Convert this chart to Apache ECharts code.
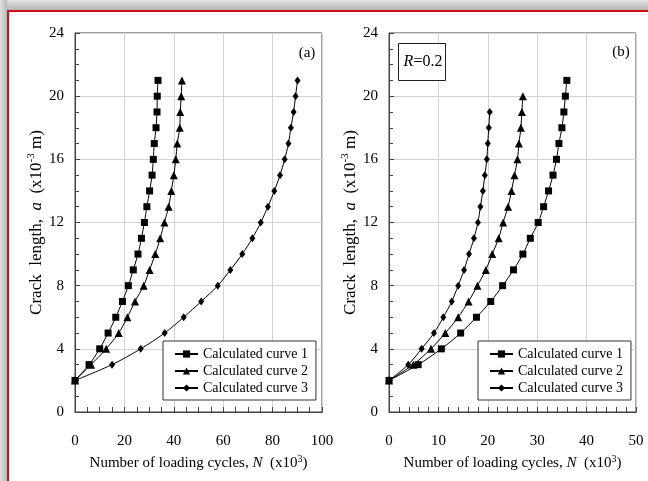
<!DOCTYPE html>
<html>
<head>
<meta charset="utf-8">
<script src="https://cdn.jsdelivr.net/npm/echarts@6/dist/echarts.min.js"></script>
<style>
  html, body { margin: 0; padding: 0; background: #fff; }
  #main { width: 648px; height: 481px; }
</style>
</head>
<body>
<div id="main"></div>
<script>
// crack length a (x10^-3 m) at each calculated point
var crackA1 = [2, 3, 4, 5, 6, 7, 8, 9, 10, 11, 12, 13, 14, 15, 16, 17, 18, 19, 20, 21];
var crackA2 = [2, 3, 4, 5, 6, 7, 8, 9, 10, 11, 12, 13, 14, 15, 16, 17, 18, 19, 20, 21];
var crackA3 = [2, 3, 4, 5, 6, 7, 8, 9, 10, 11, 12, 13, 14, 15, 16, 17, 18, 19, 20, 21];
// panel (a) loading cycles N (x10^3)
var cyclesA1 = [0, 5.7, 10.0, 13.4, 16.5, 19.2, 21.6, 23.6, 25.5, 26.9, 28.1, 29.1, 30.2, 31.2, 31.7, 32.1, 32.8, 33.2, 33.3, 33.6];
var cyclesA2 = [0, 6.5, 12.6, 17.7, 21.2, 24.3, 27.8, 30.2, 32.5, 34.5, 36.2, 37.9, 39.0, 40.0, 40.8, 41.4, 42.4, 42.6, 43.0, 43.3];
var cyclesA3 = [0, 15.0, 26.6, 36.3, 44.0, 51.1, 57.8, 62.9, 67.7, 71.8, 75.2, 78.1, 80.7, 83.0, 84.9, 86.4, 87.4, 88.5, 89.3, 90.1];

// panel (b), R = 0.2
var crackB1 = [2, 3, 4, 5, 6, 7, 8, 9, 10, 11, 12, 13, 14, 15, 16, 17, 18, 19, 20, 21];
var crackB2 = [2, 3, 4, 5, 6, 7, 8, 9, 10, 11, 12, 13, 14, 15, 16, 17, 18, 19, 20];
var crackB3 = [2, 3, 4, 5, 6, 7, 8, 9, 10, 11, 12, 13, 14, 15, 16, 17, 18, 19];
var cyclesB1 = [0, 5.9, 10.6, 14.5, 17.7, 20.6, 23.0, 25.2, 27.1, 28.6, 30.2, 31.3, 32.3, 33.2, 33.9, 34.4, 35.0, 35.4, 35.7, 36.0];
var cyclesB2 = [0, 4.9, 8.5, 11.4, 14.0, 16.1, 17.9, 19.6, 20.9, 22.2, 23.1, 24.1, 24.8, 25.4, 26.0, 26.3, 26.7, 26.9, 27.1];
var cyclesB3 = [0, 3.9, 6.6, 9.1, 11.0, 12.7, 14.0, 15.2, 16.2, 17.2, 18.0, 18.5, 19.0, 19.4, 19.8, 20.0, 20.2, 20.4];

var curveNames = ['Calculated curve 1', 'Calculated curve 2', 'Calculated curve 3'];

var serif = 'Liberation Serif';

function pairs(xs, ys) {
    var out = [];
    for (var i = 0; i < xs.length; i++) out.push([xs[i], ys[i]]);
    return out;
}

var chartDom = document.getElementById('main');
var myChart = echarts.init(chartDom);

function richFor(size) {
    return {
        n: { fontFamily: serif, fontSize: size, color: '#000', lineHeight: size + 4 },
        i: { fontFamily: serif, fontSize: size, color: '#000', fontStyle: 'italic', lineHeight: size + 4 },
        s: { fontFamily: serif, fontSize: Math.round(size * 0.65), color: '#000', verticalAlign: 'top', lineHeight: size + 4 }
    };
}

function xAxisFor(idx, max, interval, minorSplit) {
    return {
        gridIndex: idx,
        type: 'value',
        min: 0,
        max: max,
        interval: interval,
        name: '{n|Number of loading cycles, }{i|N}{n|  (x10}{s|3}{n|)}',
        nameLocation: 'middle',
        nameGap: 40,
        nameTextStyle: { rich: richFor(15) },
        axisLine: { show: true, lineStyle: { color: '#444', width: 1 } },
        axisTick: { show: true, inside: true, length: 5, lineStyle: { color: '#444' } },
        minorTick: { show: true, splitNumber: minorSplit, length: 5, lineStyle: { color: '#444' } },
        axisLabel: { fontFamily: serif, fontSize: 15, color: '#000', margin: 22 },
        splitLine: { show: true, lineStyle: { color: '#d4d4d4', width: 1 } },
        minorSplitLine: { show: false }
    };
}

function yAxisFor(idx) {
    return {
        gridIndex: idx,
        type: 'value',
        min: 0,
        max: 24,
        interval: 4,
        name: '{n|Crack  length,  }{i|a}{n|  (x10}{s|-3}{n| m)}',
        nameLocation: 'middle',
        nameGap: 26,
        nameTextStyle: { rich: richFor(17) },
        axisLine: { show: true, lineStyle: { color: '#444', width: 1 } },
        axisTick: { show: true, inside: true, length: 5, lineStyle: { color: '#444' } },
        minorTick: { show: true, splitNumber: 4, length: 4, lineStyle: { color: '#444' } },
        axisLabel: { fontFamily: serif, fontSize: 15, color: '#000', margin: 11 },
        splitLine: { show: true, lineStyle: { color: '#d4d4d4', width: 1 } }
    };
}

var symbols = ['rect', 'triangle', 'diamond'];
var symbolSizes = [7, [8, 8], [6, 8]];

function seriesFor(idx, xs, ys) {
    var list = [];
    for (var k = 0; k < 3; k++) {
        list.push({
            name: curveNames[k],
            type: 'line',
            xAxisIndex: idx,
            yAxisIndex: idx,
            data: pairs(xs[k], ys[k]),
            smooth: 0.3,
            symbol: symbols[k],
            symbolSize: symbolSizes[k],
            showAllSymbol: true,
            lineStyle: { color: '#000', width: 1 },
            itemStyle: { color: '#000' },
            animation: false
        });
    }
    return list;
}

function legendFor(left) {
    return {
        data: curveNames,
        orient: 'vertical',
        left: left,
        top: 341,
        itemWidth: 23,
        itemHeight: 9,
        itemGap: 3,
        padding: [6, 8, 5, 11],
        backgroundColor: '#fff',
        borderColor: '#333',
        borderWidth: 1,
        borderRadius: 0,
        selectedMode: false,
        textStyle: { fontFamily: serif, fontSize: 14, color: '#000', lineHeight: 14 }
    };
}

var option = {
    backgroundColor: '#fff',
    animation: false,
    grid: [
        { left: 75, top: 33, width: 247, height: 379, show: true, borderColor: '#444', borderWidth: 1, backgroundColor: 'transparent' },
        { left: 389, top: 33, width: 247, height: 379, show: true, borderColor: '#444', borderWidth: 1, backgroundColor: 'transparent' }
    ],
    xAxis: [xAxisFor(0, 100, 20, 4), xAxisFor(1, 50, 10, 5)],
    yAxis: [yAxisFor(0), yAxisFor(1)],
    legend: [legendFor(163), legendFor(478)],
    series: seriesFor(0, [cyclesA1, cyclesA2, cyclesA3], [crackA1, crackA2, crackA3])
        .concat(seriesFor(1, [cyclesB1, cyclesB2, cyclesB3], [crackB1, crackB2, crackB3])),
    graphic: [
        // frame shadow and red border
        { type: 'rect', z: -10, shape: { x: 0, y: 0, width: 648, height: 10 },
          style: { fill: new echarts.graphic.LinearGradient(0, 0, 0, 1, [{ offset: 0, color: '#e4e4e4' }, { offset: 1, color: '#b4b4b4' }]) } },
        { type: 'rect', z: -10, shape: { x: 0, y: 0, width: 7, height: 481 },
          style: { fill: new echarts.graphic.LinearGradient(0, 0, 1, 0, [{ offset: 0, color: '#e0e0e0' }, { offset: 1, color: '#b8b8b8' }]) } },
        { type: 'line', z: -5, shape: { x1: 7, y1: 11, x2: 648, y2: 11 }, style: { stroke: '#cc1111', lineWidth: 2 } },
        { type: 'line', z: -5, shape: { x1: 8, y1: 10, x2: 8, y2: 481 }, style: { stroke: '#cc1111', lineWidth: 2 } },
        // panel labels
        { type: 'text', x: 307, y: 53, style: { text: '(a)', font: '15px "Liberation Serif"', fill: '#000', align: 'center', verticalAlign: 'middle' } },
        { type: 'text', x: 621, y: 52, style: { text: '(b)', font: '15px "Liberation Serif"', fill: '#000', align: 'center', verticalAlign: 'middle' } },
        { type: 'rect', z: 5, shape: { x: 398.5, y: 43.5, width: 47, height: 37 }, style: { fill: '#fff', stroke: '#222', lineWidth: 1 } },
        { type: 'text', z: 6, x: 423, y: 62, style: {
            text: '{i|R}{n|=0.2}', align: 'center', verticalAlign: 'middle',
            rich: {
                i: { fontFamily: serif, fontSize: 16, fontStyle: 'italic', fill: '#000' },
                n: { fontFamily: serif, fontSize: 16, fill: '#000' }
            }
        } }
    ]
};

option && myChart.setOption(option);
</script>
</body>
</html>
